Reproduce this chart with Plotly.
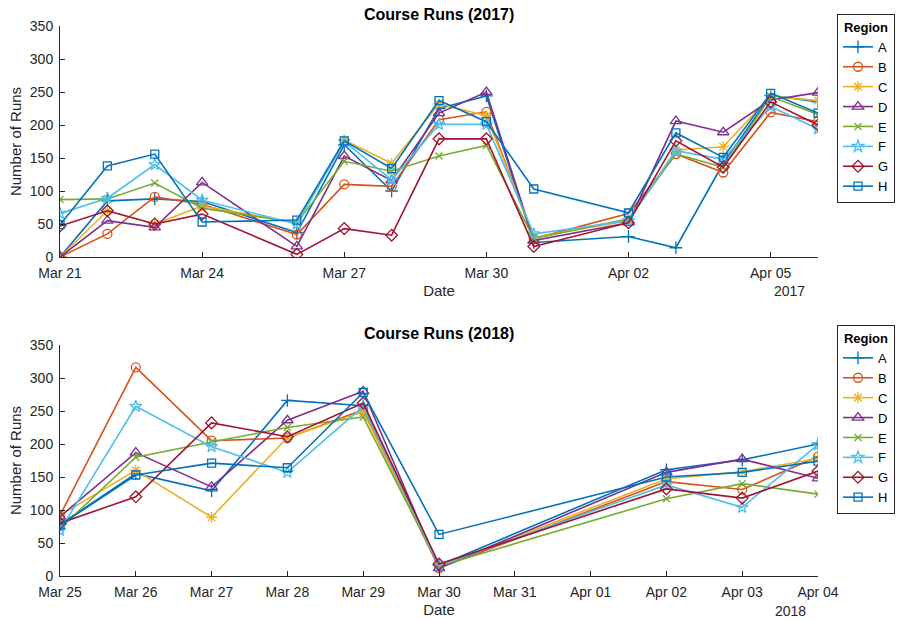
import plotly.graph_objects as go

regions = ["A", "B", "C", "D", "E", "F", "G", "H"]

dates_2017 = ["2017-03-21", "2017-03-22", "2017-03-23", "2017-03-24", "2017-03-26",
              "2017-03-27", "2017-03-28", "2017-03-29", "2017-03-30", "2017-03-31",
              "2017-04-02", "2017-04-03", "2017-04-04", "2017-04-05", "2017-04-06"]
runs_2017_A = [0, 85, 88, 84, 37, 170, 100, 225, 244, 22, 31, 14, 142, 245, 235]
runs_2017_B = [0, 35, 91, 80, 34, 110, 107, 208, 220, 28, 66, 156, 128, 219, 205]
runs_2017_C = [0, 70, 50, 77, 52, 177, 142, 232, 214, 30, 55, 162, 167, 244, 237]
runs_2017_D = [0, 55, 45, 113, 16, 153, 116, 218, 250, 25, 52, 206, 189, 238, 249]
runs_2017_E = [87, 88, 112, 74, 52, 145, 130, 153, 169, 28, 58, 156, 136, 243, 216]
runs_2017_F = [66, 89, 140, 86, 50, 175, 117, 201, 201, 35, 55, 161, 148, 228, 194]
runs_2017_G = [47, 70, 50, 65, 4, 43, 33, 179, 179, 16, 52, 176, 136, 235, 200]
runs_2017_H = [49, 138, 156, 53, 56, 176, 134, 237, 205, 103, 67, 188, 151, 248, 218]

dates_2018 = ["2018-03-25", "2018-03-26", "2018-03-27", "2018-03-28", "2018-03-29",
              "2018-03-30", "2018-04-02", "2018-04-03", "2018-04-04"]
runs_2018_A = [78, 155, 129, 266, 258, 16, 161, 176, 200]
runs_2018_B = [92, 316, 205, 209, 252, 12, 143, 131, 181]
runs_2018_C = [92, 160, 89, 210, 249, 14, 147, 158, 178]
runs_2018_D = [90, 187, 135, 236, 280, 12, 157, 177, 148]
runs_2018_E = [72, 180, 203, 225, 241, 15, 117, 140, 124]
runs_2018_F = [69, 257, 196, 157, 257, 16, 138, 104, 199]
runs_2018_G = [80, 120, 232, 211, 262, 18, 132, 118, 159]
runs_2018_H = [77, 153, 171, 164, 278, 63, 150, 157, 174]

series_2017 = [runs_2017_A, runs_2017_B, runs_2017_C, runs_2017_D,
               runs_2017_E, runs_2017_F, runs_2017_G, runs_2017_H]
series_2018 = [runs_2018_A, runs_2018_B, runs_2018_C, runs_2018_D,
               runs_2018_E, runs_2018_F, runs_2018_G, runs_2018_H]

colors = ["#0072BD", "#D95319", "#EDB120", "#7E2F8E",
          "#77AC30", "#4DBEEE", "#A2142F", "#0072BD"]
symbols = ["cross-thin-open", "circle-open", "asterisk-open", "triangle-up-open",
           "x-thin-open", "star-open", "diamond-open", "square-open"]
sizes = [9, 9, 9, 10, 7, 9, 9, 8]

FONT = "Liberation Sans, Arial, sans-serif"

fig = go.Figure()
for i, r in enumerate(regions):
    fig.add_trace(go.Scatter(
        x=dates_2017, y=series_2017[i], name=r, mode="lines+markers",
        line=dict(color=colors[i], width=1.6),
        marker=dict(symbol=symbols[i], size=sizes[i], color=colors[i],
                    line=dict(color=colors[i], width=1.3)),
        xaxis="x", yaxis="y", legend="legend"))
for i, r in enumerate(regions):
    fig.add_trace(go.Scatter(
        x=dates_2018, y=series_2018[i], name=r, mode="lines+markers",
        line=dict(color=colors[i], width=1.6),
        marker=dict(symbol=symbols[i], size=sizes[i], color=colors[i],
                    line=dict(color=colors[i], width=1.3)),
        xaxis="x2", yaxis="y2", legend="legend2"))

axis_font = dict(family=FONT, size=14, color="#262626")
label_font = dict(family=FONT, size=15, color="#262626")
common_x = dict(type="date", tickformat="%b %d", ticks="inside", ticklen=5,
                showline=True, linecolor="#262626", linewidth=1, showgrid=False,
                zeroline=False, tickfont=axis_font, tickcolor="#262626", automargin=False,
                ticklabelstandoff=3,
                title=dict(text="Date", font=label_font, standoff=5))
common_y = dict(range=[0, 350], dtick=50, ticks="inside", ticklen=5,
                showline=True, linecolor="#262626", linewidth=1, showgrid=False,
                zeroline=False, tickfont=axis_font, tickcolor="#262626", automargin=False,
                ticklabelstandoff=3,
                title=dict(text="Number of Runs", font=label_font, standoff=4))

legend_common = dict(bgcolor="white", bordercolor="#262626", borderwidth=1,
                     font=dict(family=FONT, size=13, color="#000000"),
                     title=dict(text="<b>Region</b>", side="top center",
                                font=dict(family=FONT, size=13, color="#000000")),
                     xref="container", yref="container",
                     xanchor="right", yanchor="top", tracegroupgap=0, itemwidth=30)

fig.update_layout(
    width=897, height=621,
    margin=dict(l=60, r=79, t=26, b=45, autoexpand=False),
    plot_bgcolor="white", paper_bgcolor="white",
    font=dict(family=FONT, color="#262626"),
    xaxis=dict(common_x, domain=[0, 1], anchor="y",
               range=["2017-03-21", "2017-04-06"], tick0="2017-03-21", dtick=3 * 86400000),
    yaxis=dict(common_y, domain=[0.58, 1.0], anchor="x"),
    xaxis2=dict(common_x, domain=[0, 1], anchor="y2",
                range=["2018-03-25", "2018-04-04"], tick0="2018-03-25", dtick=86400000),
    yaxis2=dict(common_y, domain=[0.0, 0.42], anchor="x2"),
    legend=dict(legend_common, x=895 / 897, y=1 - 14 / 621),
    legend2=dict(legend_common, x=895 / 897, y=1 - 325 / 621),
    annotations=[
        dict(text="<b>Course Runs (2017)</b>", xref="paper", yref="paper", x=0.5, y=1.0,
             xanchor="center", yanchor="middle", yshift=12, showarrow=False,
             font=dict(size=16, color="#000000")),
        dict(text="<b>Course Runs (2018)</b>", xref="paper", yref="paper", x=0.5, y=0.42,
             xanchor="center", yanchor="middle", yshift=12, showarrow=False,
             font=dict(size=16, color="#000000")),
        dict(text="2017", xref="paper", yref="paper", x=(789 - 60) / 758, y=0.58,
             xanchor="center", yanchor="middle", yshift=-34, showarrow=False,
             font=dict(size=14, color="#262626")),
        dict(text="2018", xref="paper", yref="paper", x=(790 - 60) / 758, y=0.0,
             xanchor="center", yanchor="middle", yshift=-35, showarrow=False,
             font=dict(size=14, color="#262626")),
    ],
)

fig.write_html("out.html", config={"displayModeBar": False},
               post_script="document.body.style.margin='0px';")
